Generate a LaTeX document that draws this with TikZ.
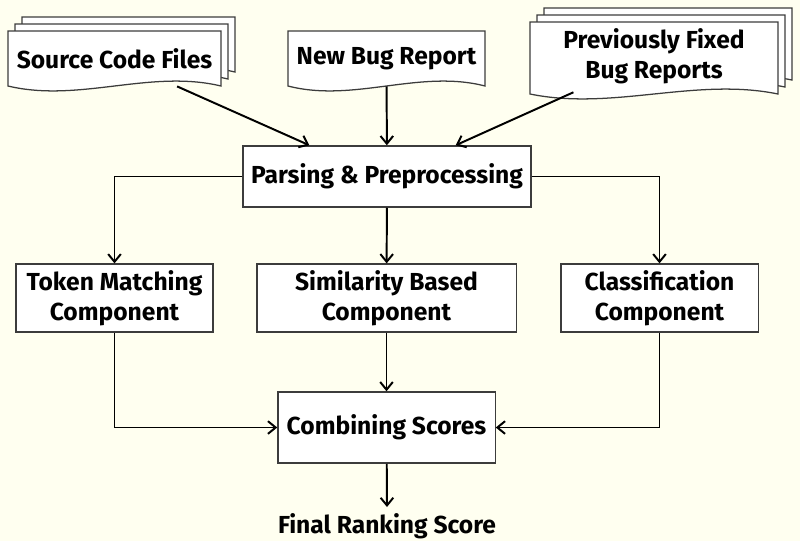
\documentclass[tikz,border=0pt]{standalone}
\usepackage{fontspec}
\setmainfont{Fira Sans}
\usetikzlibrary{arrows.meta, positioning, calc}
\usepackage{xcolor}
\definecolor{bgivory}{RGB}{255,255,240}
\definecolor{boxline}{RGB}{60,60,60}

% page with wavy bottom: left, top, right, bottom (px)
\newcommand{\docpage}[4]{%
  \filldraw[fill=white, draw=boxline, line width=0.9pt]
    (#1,#2) -- (#3,#2) -- (#3,#4)
    .. controls ({#1+0.667*(#3-#1)},{#4-17}) and ({#1+0.333*(#3-#1)},{#4+17}) .. (#1,#4) -- cycle;}

\begin{document}
\begin{tikzpicture}[
  x=0.025cm, y=-0.025cm,
  box/.style={draw=boxline, fill=white, line width=0.9pt, align=center, font=\fontsize{17.5}{21}\selectfont\bfseries, inner sep=0pt},
  doc/.style={align=center, font=\fontsize{17.5}{21}\selectfont\bfseries, inner sep=0pt},
  flow/.style={->, line width=1.4pt},
  >={Straight Barb[length=5.5pt, width=9pt]}
]

\fill[bgivory] (0,0) rectangle (800,541);

% stacked pages
\docpage{22}{17}{235}{72}
\docpage{15}{24}{228}{79}
\docpage{8}{31}{221}{86}

\docpage{288}{31}{485}{86}

\docpage{544}{8}{792}{80}
\docpage{537}{15}{785}{87}
\docpage{530}{22}{778}{94}

\node[doc, minimum width=5.33cm, minimum height=1.38cm] (src) at (114.5,58.5) {Source Code Files};
\node[doc, minimum width=4.93cm, minimum height=1.38cm] (newbug) at (386.5,58.5) {New Bug Report};
\node[doc, minimum width=6.2cm, minimum height=1.8cm] (prev) at (654,56) {Previously Fixed\\Bug Reports};

\node[box, minimum width=7.2cm, minimum height=1.53cm] (parse) at (387,176.5) {Parsing \& Preprocessing};

\node[box, minimum width=4.93cm, minimum height=1.7cm] (token) at (114.5,298) {Token Matching\\Component};
\node[box, minimum width=6.48cm, minimum height=1.7cm] (sim) at (386.5,298) {Similarity Based\\Component};
\node[box, minimum width=4.93cm, minimum height=1.7cm] (class) at (659.5,298) {Classification\\Component};

\node[box, minimum width=5.43cm, minimum height=1.78cm] (comb) at (386.5,427.5) {Combining Scores};
\node[doc] (final) at (387,526) {Final Ranking Score};

\draw[flow] (src) -- ($(parse.north west)+(67,0)$);
\draw[flow] (newbug) -- (parse);
\draw[flow] (prev) -- ($(parse.north east)+(-76,0)$);

\draw[flow] (parse.west) -| (token.north);
\draw[flow] (parse) -- (sim);
\draw[flow] (parse.east) -| (class.north);

\draw[flow] (token.south) |- (comb.west);
\draw[flow] (sim) -- (comb);
\draw[flow] (class.south) |- (comb.east);

\draw[flow] (comb) -- ($(final.north)+(0,-6)$);

\end{tikzpicture}
\end{document}
